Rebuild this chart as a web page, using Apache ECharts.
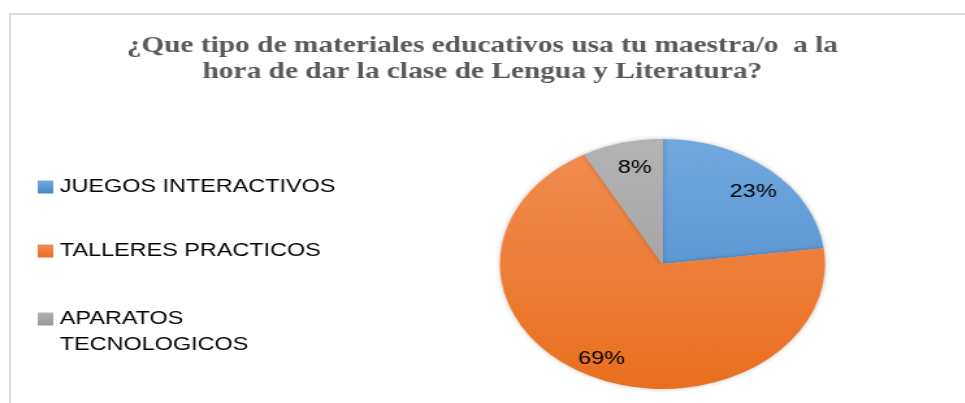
<!DOCTYPE html>
<html>
<head>
<meta charset="utf-8">
<script src="https://cdn.jsdelivr.net/npm/echarts@6/dist/echarts.min.js"></script>
<style>
  html, body { margin: 0; padding: 0; background: #fff; overflow: hidden; }
  .frame {
    position: absolute; left: 9px; top: 13px; width: 960px; height: 400px;
    border-top: 2px solid #d9d9d9; border-left: 2px solid #d9d9d9;
  }
  /* the original picture is stretched sideways, so the chart is drawn narrow and widened */
  #main {
    position: absolute; left: 0; top: 0; width: 742px; height: 403px;
    transform: scaleX(1.3); transform-origin: 0 0;
  }
</style>
</head>
<body>
<div class="frame"></div>
<div id="main"></div>
<script>
const categories = ["JUEGOS INTERACTIVOS", "TALLERES PRACTICOS", "APARATOS TECNOLOGICOS"];
const values = [23, 69, 8];
const topColors = ["#72A9DF", "#F28D53", "#B3B3B3"];
const bottomColors = ["#4786C7", "#E96F1D", "#979797"];
// small nudges of the percent labels
const labelOffsets = [[0, 7], [1, 1], [5, 6]];

const chart = echarts.init(document.getElementById("main"));

// vertical gradient across the whole pie (pixels), like the office chart
function pieFill(i) {
  return new echarts.graphic.LinearGradient(0, 139, 0, 389, [
    { offset: 0, color: topColors[i] },
    { offset: 1, color: bottomColors[i] },
  ], true);
}
function boxFill(i) {
  return new echarts.graphic.LinearGradient(0, 0, 0, 1, [
    { offset: 0, color: topColors[i] },
    { offset: 1, color: bottomColors[i] },
  ]);
}

const legendTops = [174, 238, 280];
const legends = categories.map(function (name, i) {
  return {
    orient: "vertical",
    left: 29,
    top: legendTops[i],
    padding: 0,
    icon: "rect",
    itemWidth: 12,
    itemHeight: 13,
    selectedMode: false,
    data: [{ name: name, itemStyle: { color: boxFill(i) } }],
    // the long one wraps; an empty first line keeps the box level with "APARATOS"
    formatter: i == 2 ? function (n) { return "\n" + n; } : "{name}",
    textStyle: {
      fontFamily: "Liberation Sans",
      fontSize: 18,
      color: "#000",
      lineHeight: 26,
      width: i == 2 ? 160 : 400,
      overflow: "break",
    },
  };
});

chart.setOption({
  animation: false,
  title: {
    text: "¿Que tipo de materiales educativos usa tu maestra/o  a la\nhora de dar la clase de Lengua y Literatura?",
    left: "center",
    top: 28,
    textStyle: {
      fontFamily: "Liberation Serif",
      fontWeight: "bold",
      fontSize: 22.6,
      lineHeight: 26,
      color: "#595959",
    },
  },
  legend: legends,
  series: [
    {
      type: "pie",
      center: [509.6, 264],
      radius: [0, 125],
      startAngle: 90,
      label: { show: false },
      labelLine: { show: false },
      itemStyle: { borderWidth: 0, shadowBlur: 4, shadowColor: "rgba(0,0,0,0.25)" },
      data: categories.map(function (name, i) {
        return { name: name, value: values[i], itemStyle: { color: pieFill(i) } };
      }),
    },
    {
      // only carries the percent labels, set further out than "inside" would
      type: "pie",
      silent: true,
      center: [509.6, 264],
      radius: [80, 125],
      startAngle: 90,
      itemStyle: { color: "rgba(0,0,0,0)" },
      labelLine: { show: false },
      label: {
        position: "inside",
        formatter: "{c}%",
        fontFamily: "Liberation Sans",
        fontSize: 18,
        color: "#000",
      },
      data: categories.map(function (name, i) {
        return { name: name, value: values[i], label: { offset: labelOffsets[i] } };
      }),
    },
  ],
});
</script>
</body>
</html>
